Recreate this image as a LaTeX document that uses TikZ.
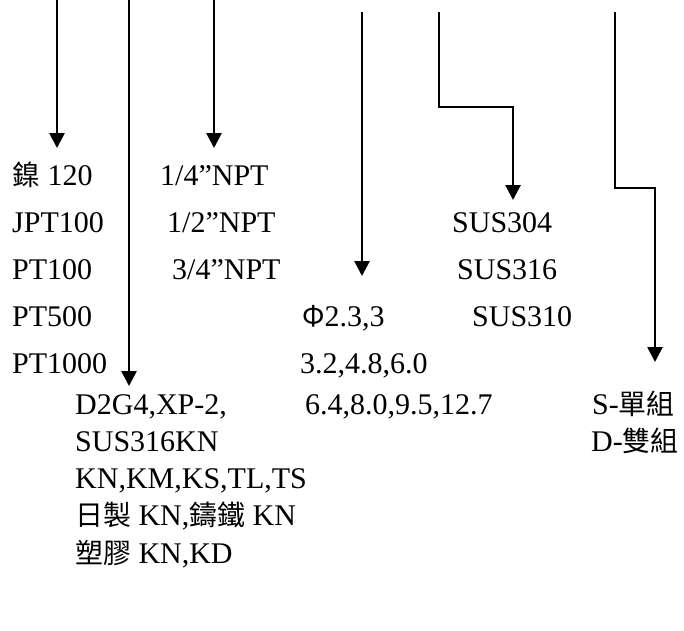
\documentclass[tikz,border=0pt]{standalone}
\usepackage{fontspec}
\setmainfont{Liberation Serif}
\newfontfamily\cjk[Scale=0.93]{Noto Sans CJK TC}
\newcommand{\zh}[1]{{\cjk #1}}
\usetikzlibrary{arrows.meta}

\begin{document}
\begin{tikzpicture}
    [x=1pt,y=-1pt,every node/.style={anchor=base west,inner sep=0pt,font=\fontsize{30}{36}\selectfont},
     arr/.style={line width=2.7pt,-{Triangle[length=15pt,width=15pt]}}]
      \useasboundingbox (0,0) rectangle (684,630);

      % sensor types
      \node (ni)     at (12,185)  {\zh{鎳} 120};
      \node (jpt)    at (12,232)  {JPT100};
      \node (pt1)    at (12,279)  {PT100};
      \node (pt5)    at (12,326)  {PT500};
      \node (pt10)   at (12,373)  {PT1000};

      % head types
      \node (head1)  at (75,414)  {D2G4,XP-2,};
      \node (head2)  at (75,451)  {SUS316KN};
      \node (head3)  at (75,488)  {KN,KM,KS,TL,TS};
      \node (head4)  at (75,525)  {\zh{日製} KN,\zh{鑄鐵} KN};
      \node (head5)  at (75,563)  {\zh{塑膠} KN,KD};

      % threads
      \node (npt1)   at (160,185) {1/4”NPT};
      \node (npt2)   at (167,232) {1/2”NPT};
      \node (npt3)   at (172,279) {3/4”NPT};

      % diameters
      \node (dia1)   at (302,326) {\zh{Φ}2.3,3};
      \node (dia2)   at (300,373) {3.2,4.8,6.0};
      \node (dia3)   at (305,414) {6.4,8.0,9.5,12.7};

      % materials
      \node (sus1)   at (452,232) {SUS304};
      \node (sus2)   at (457,279) {SUS316};
      \node (sus3)   at (472,326) {SUS310};

      % elements
      \node (single) at (592,414) {S-\zh{單組}};
      \node (double) at (591,451) {D-\zh{雙組}};

      \coordinate (s1) at (57,0);    \coordinate (e1) at (57,148);
      \coordinate (s2) at (129,0);   \coordinate (e2) at (129,386);
      \coordinate (s3) at (214,0);   \coordinate (e3) at (214,148);
      \coordinate (s4) at (362,12);  \coordinate (e4) at (362,276);
      \coordinate (s5) at (439,12);  \coordinate (e5) at (513,200);
      \coordinate (s6) at (615,12);  \coordinate (e6) at (655,362);

      \foreach \from/\to in {s1/e1,s2/e2,s3/e3,s4/e4}
	\draw[arr] (\from) -- (\to);

      \draw[arr] (s5) |- (513,107) -- (e5);
      \draw[arr] (s6) |- (655,188) -- (e6);
    \end{tikzpicture}
\end{document}
